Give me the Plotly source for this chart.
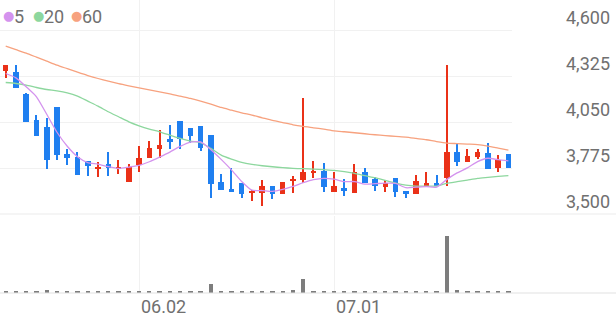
import plotly.graph_objects as go

# ---------------- data ----------------
dates = ["05.14", "05.15", "05.16", "05.19", "05.20", "05.21", "05.22", "05.23", "05.26", "05.27",
         "05.28", "05.29", "05.30", "06.02", "06.04", "06.05", "06.09", "06.10", "06.11", "06.12",
         "06.13", "06.16", "06.17", "06.18", "06.19", "06.20", "06.23", "06.24", "06.25", "06.26",
         "06.27", "06.30", "07.01", "07.02", "07.03", "07.04", "07.07", "07.08", "07.09", "07.10",
         "07.11", "07.14", "07.15", "07.16", "07.17", "07.18", "07.21", "07.22", "07.23", "07.24"]

opens = [4360, 4351, 4220, 4064, 4024, 4140, 3858, 3840, 3818, 3770,
         3800, 3770, 3692, 3794, 3838, 3890, 3952, 4058, 4018, 4028,
         3974, 3694, 3650, 3688, 3630, 3624, 3668, 3618, 3702, 3706,
         3748, 3758, 3634, 3654, 3624, 3750, 3708, 3664, 3714, 3638,
         3618, 3670, 3684, 3714, 3870, 3814, 3844, 3868, 3778, 3858]
highs = [4395, 4395, 4228, 4094, 4074, 4140, 3890, 3874, 3818, 3810,
         3874, 3822, 3798, 3906, 3938, 4002, 4034, 4058, 4018, 4028,
         3974, 3738, 3774, 3688, 3644, 3704, 3668, 3694, 3730, 4198,
         3818, 3804, 3754, 3708, 3798, 3774, 3724, 3704, 3714, 3638,
         3734, 3750, 3734, 4395, 3924, 3890, 3890, 3924, 3854, 3858]
lows = [4318, 4258, 4050, 3968, 3768, 3824, 3794, 3734, 3728, 3720,
        3730, 3738, 3692, 3754, 3838, 3838, 3888, 3888, 3924, 3878,
        3598, 3644, 3634, 3598, 3580, 3550, 3590, 3618, 3624, 3684,
        3714, 3634, 3634, 3610, 3624, 3684, 3640, 3630, 3604, 3598,
        3618, 3670, 3668, 3668, 3788, 3810, 3830, 3768, 3754, 3778]
closes = [4395, 4258, 4050, 3968, 3824, 3854, 3838, 3734, 3790, 3782,
          3778, 3782, 3780, 3838, 3894, 3914, 3934, 3950, 3970, 3898,
          3678, 3644, 3634, 3620, 3638, 3668, 3618, 3694, 3710, 3750,
          3758, 3660, 3668, 3640, 3750, 3684, 3668, 3684, 3634, 3620,
          3698, 3684, 3668, 3870, 3814, 3850, 3874, 3768, 3824, 3778]
volumes = [12, 15, 12, 15, 33, 15, 12, 15, 12, 15,
           12, 15, 12, 12, 12, 15, 12, 15, 12, 15,
           93, 15, 12, 20, 12, 12, 12, 15, 27, 137,
           12, 12, 12, 12, 12, 12, 12, 12, 12, 15,
           12, 12, 15, 570, 27, 15, 15, 15, 12, 12]

ma5 = [4344, 4318, 4264, 4204, 4099, 3991, 3907, 3844, 3808, 3800,
       3784, 3773, 3782, 3792, 3814, 3842, 3872, 3906, 3932, 3933,
       3886, 3828, 3765, 3695, 3643, 3641, 3636, 3648, 3666, 3688,
       3706, 3714, 3709, 3695, 3695, 3680, 3682, 3685, 3684, 3658,
       3661, 3664, 3661, 3708, 3747, 3777, 3815, 3835, 3826, 3819]
ma20 = [4290, 4284, 4274, 4260, 4248, 4240, 4228, 4208, 4178, 4148,
        4114, 4084, 4054, 4030, 4010, 3994, 3974, 3954, 3938, 3928,
        3894, 3854, 3830, 3810, 3798, 3790, 3784, 3778, 3774, 3772,
        3770, 3766, 3762, 3754, 3744, 3730, 3718, 3702, 3686, 3674,
        3668, 3668, 3668, 3684, 3694, 3704, 3714, 3720, 3726, 3730]
ma60 = [4508, 4487, 4466, 4442, 4418, 4394, 4373, 4352, 4332, 4314,
        4298, 4283, 4270, 4258, 4246, 4234, 4222, 4208, 4194, 4178,
        4160, 4140, 4124, 4108, 4094, 4078, 4062, 4049, 4036, 4026,
        4018, 4010, 4000, 3994, 3988, 3982, 3976, 3971, 3966, 3962,
        3954, 3946, 3935, 3926, 3923, 3920, 3917, 3908, 3896, 3884]

price_ticks = [3500, 3775, 4050, 4325, 4600]
price_tick_labels = ["3,500", "3,775", "4,050", "4,325", "4,600"]
date_tick_labels = ["06.02", "07.01"]
ma_names = ["5", "20", "60"]

# ---------------- style ----------------
RED = "#ea3118"
BLUE = "#1f7ff0"
MA_COLORS = ["#d493ee", "#8dd79e", "#f7a27f"]
TEXT = "#707070"
GRID = "#f1f1f1"
FONT = "Roboto"

W, H = 616, 321
plot_right = 512 / W
price_dom = [1 - 214 / H, 1.0]
vol_dom = [(H - 293) / H, (H - 216) / H]

x = list(range(len(dates)))
xr = [-0.556, 49.35]
date_tick_idx = [dates.index(d) for d in date_tick_labels]

fig = go.Figure()

up = [i for i in x if closes[i] >= opens[i]]
dn = [i for i in x if closes[i] < opens[i]]
MIN_BODY = 7

for idx, col in ((up, RED), (dn, BLUE)):
    # wicks
    fig.add_trace(go.Bar(
        x=idx, base=[lows[i] for i in idx], y=[highs[i] - lows[i] for i in idx],
        width=0.11, marker=dict(color=col, line=dict(width=0)),
        xaxis="x", yaxis="y", hoverinfo="skip", showlegend=False))
    # bodies
    fig.add_trace(go.Bar(
        x=idx, base=[min(opens[i], closes[i]) for i in idx],
        y=[max(abs(closes[i] - opens[i]), MIN_BODY) for i in idx],
        width=0.54, marker=dict(color=col, line=dict(width=0)),
        xaxis="x", yaxis="y", hoverinfo="skip", showlegend=False))

for vals, col in zip((ma60, ma20, ma5), (MA_COLORS[2], MA_COLORS[1], MA_COLORS[0])):
    fig.add_trace(go.Scatter(
        x=x, y=vals, mode="lines", line=dict(color=col, width=1.3, shape="spline", smoothing=0.6),
        xaxis="x", yaxis="y", hoverinfo="skip", showlegend=False))

fig.add_trace(go.Bar(
    x=x, y=volumes, width=0.42, marker=dict(color="#7d7d7d", line=dict(width=0)),
    xaxis="x2", yaxis="y2", hoverinfo="skip", showlegend=False))

fig.update_layout(
    width=W, height=H,
    margin=dict(l=0, r=0, t=0, b=0),
    paper_bgcolor="white", plot_bgcolor="white",
    barmode="overlay", bargap=0,
    showlegend=False,
    xaxis=dict(domain=[0, plot_right], range=xr, anchor="y",
               tickvals=date_tick_idx, showticklabels=False, ticks="",
               showgrid=True, gridcolor=GRID, gridwidth=1, zeroline=False, showline=False),
    yaxis=dict(domain=price_dom, range=[3500, 4785.6], anchor="x",
               tickvals=price_ticks[1:], showticklabels=False, ticks="",
               showgrid=True, gridcolor=GRID, gridwidth=1, zeroline=False, showline=False),
    xaxis2=dict(domain=[0, plot_right], range=xr, anchor="y2",
                tickvals=date_tick_idx, showticklabels=False, ticks="",
                showgrid=True, gridcolor=GRID, gridwidth=1, zeroline=False, showline=False),
    yaxis2=dict(domain=vol_dom, range=[0, 770], anchor="x2",
                showticklabels=False, ticks="", showgrid=False, zeroline=False, showline=False),
)

# full-width separator lines (price floor and volume baseline)
fig.add_shape(type="line", xref="paper", yref="paper", x0=0, x1=1,
              y0=price_dom[0], y1=price_dom[0], line=dict(color="#ebebeb", width=1.2))
fig.add_shape(type="line", xref="paper", yref="paper", x0=0, x1=1,
              y0=vol_dom[0], y1=vol_dom[0], line=dict(color="#e2e2e2", width=1.2))

annotations = []
for v, lab in zip(price_ticks, price_tick_labels):
    annotations.append(dict(x=0.994, xref="paper", y=v, yref="y", text=lab,
                            xanchor="right", yanchor="middle", yshift=13, showarrow=False,
                            font=dict(family=FONT, size=18, color=TEXT)))
for i, lab in zip(date_tick_idx, date_tick_labels):
    annotations.append(dict(x=i, xref="x", y=(H - 306) / H, yref="paper", text=lab,
                            xanchor="left", yanchor="middle", xshift=0, showarrow=False,
                            font=dict(family=FONT, size=18, color=TEXT)))
# legend
leg_x = [1, 31, 69]
for lx, col, name in zip(leg_x, MA_COLORS, ma_names):
    annotations.append(dict(x=lx / W, xref="paper", y=1 - 15.5 / H, yref="paper", text="●",
                            xanchor="left", yanchor="middle", showarrow=False,
                            font=dict(family="DejaVu Sans", size=13, color=col)))
    annotations.append(dict(x=(lx + 11) / W, xref="paper", y=1 - 16 / H, yref="paper", text=name,
                            xanchor="left", yanchor="middle", showarrow=False,
                            font=dict(family=FONT, size=18, color=TEXT)))
fig.update_layout(annotations=annotations)

fig.write_html("out.html")
